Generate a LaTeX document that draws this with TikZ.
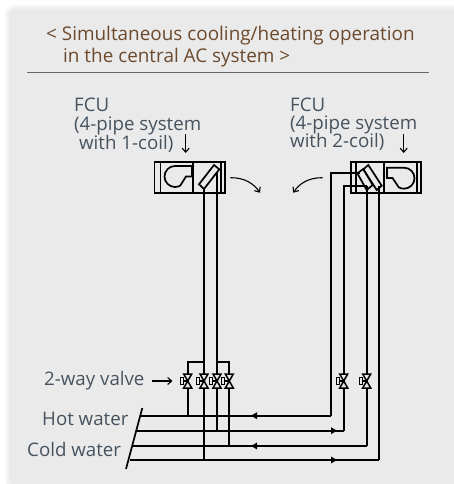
\documentclass[tikz,border=0pt]{standalone}
\usepackage{fontspec}
\setmainfont{Open Sans}
\usetikzlibrary{arrows.meta,calc}
\definecolor{panel}{HTML}{EAEAEA}
\definecolor{titlec}{HTML}{6B4A2E}
\definecolor{labelc}{HTML}{46535F}
\tikzset{
  pipe/.style={draw=black,line width=1.7pt},
  boxl/.style={draw=black,line width=1.7pt},
  flowl/.style={draw=black,line width=1.7pt,-{Latex[length=7pt,width=7.5pt]}},
  thin arrow/.style={draw=black,line width=1.1pt,-{Straight Barb[length=4pt,width=7pt]}},
  ttl/.style={anchor=base west,inner sep=0pt,text=titlec,font=\fontsize{18.9}{20}\selectfont},
  lbl/.style={anchor=base west,inner sep=0pt,text=labelc,font=\fontsize{18.7}{20}\selectfont},
  valveblk/.pic={
    \draw[line width=1.5pt,fill=panel] (-4,-7)--(4,-7)--(-4,7)--(4,7)--cycle;
    \draw[line width=1.3pt,fill=panel] (-7.5,-3.5) rectangle (-4.5,3.5);
    \draw[line width=1.3pt] (-4.5,0)--(0,0);
  }
}
\begin{document}
\begin{tikzpicture}[x=1pt,y=-1pt]
\useasboundingbox (0,0) rectangle (454,484);
\fill[white] (0,0) rectangle (454,484);
\fill[panel!35,rounded corners=9pt] (5,5) rectangle (470,490);
\fill[panel!70,rounded corners=8pt] (7,7) rectangle (470,490);
\fill[panel,rounded corners=7pt] (9,9) rectangle (470,486);
% title
\node[ttl] (t1) at (46,40.7) {< Simultaneous cooling/heating operation};
\node[ttl] (t2) at (63,62.7) {in the central AC system >};
\draw[draw=black!60,line width=1.2pt] (27,72.5) -- (428.5,72.5);
% labels
\node[lbl] (f1) at (74,111.7) {FCU};
\node[lbl] (f2) at (74,131) {(4-pipe system};
\node[lbl] (f3) at (79,149) {with 1-coil)};
\node[lbl] (g1) at (290,111) {FCU};
\node[lbl] (g2) at (290,129) {(4-pipe system};
\node[lbl] (g3) at (290,147) {with 2-coil)};
\node[lbl] (vl) at (44,385) {2-way valve};
\node[lbl] (hw) at (42,425) {Hot water};
\node[lbl] (cw) at (27,456.7) {Cold water};
\draw[thin arrow] (185.7,134) -- (185.7,153);
\draw[thin arrow] (403.7,134) -- (403.7,153);
\draw[thin arrow] (152,381) -- (172.5,381);
% left FCU
\draw[boxl] (154.5,162) rectangle (225,193);
\draw[boxl] (160.5,162)--(160.5,193) (193,162)--(193,193) (221,162)--(221,193);
\draw[boxl] (192,166) -- (175,166) arc[start angle=-90,end angle=-300,radius=10.5] -- (186,176.5) -- (192,176.5) -- cycle;
\coordinate (lp1) at (204,189); \coordinate (lp2) at (217,172);
\draw[pipe] (lp1) -- (204,460);
\draw[pipe] (lp2) -- (217,430.7);
\draw[boxl,fill=panel] (199,184.3)--(214,165)--(219.3,169.3)--(204,189)--cycle;
% right FCU
\draw[boxl] (351,162) rectangle (421.3,193);
\draw[boxl] (356,162)--(356,193) (383.7,162)--(383.7,193) (416.7,162)--(416.7,193);
\draw[boxl] (387,167.7) -- (404,167.7) arc[start angle=-90,end angle=120,radius=10.5] -- (392.5,178) -- (387,178) -- cycle;
\draw[pipe] (360,173.3) -- (331.3,173.3) -- (331.3,415.7);
\draw[pipe] (367,186) -- (343.7,186) -- (343.7,430.7);
\draw[pipe] (366.7,186) -- (366.7,446);
\draw[pipe] (379.3,186) -- (379.3,460);
\draw[boxl] (357.3,173.3)--(363.3,169)--(372.7,185)--(366.7,190)--cycle;
\draw[boxl] (363.3,169.3)--(368.3,165)--(381.7,185.7)--(376.7,190)--cycle;
% air curves
\draw[thin arrow] (230.3,177.7) .. controls (245,177.5) and (254,184) .. (260,192.7);
\draw[thin arrow] (322.7,177.7) .. controls (308,177.5) and (299,184) .. (293.3,192.7);
% headers
\draw[boxl] (142.3,408) -- (126,469);
\draw[pipe] (141,415.7) -- (331.3,415.7);
\draw[pipe] (137,430.7) -- (343.7,430.7);
\draw[pipe] (133,446) -- (366.7,446);
\draw[pipe] (129.5,460) -- (379.3,460);
\draw[flowl] (259,415.7) -- (250,415.7);
\draw[flowl] (259,446) -- (250,446);
\draw[flowl] (329,430.7) -- (338,430.7);
\draw[flowl] (329,460) -- (338,460);
% branches
\draw[pipe] (204,361.7) -- (187.7,361.7) -- (187.7,415.7);
\draw[pipe] (217,361.7) -- (229.3,361.7) -- (229.3,446);
% valves
\pic at (187.7,381) {valveblk};
\pic at (204,381) {valveblk};
\pic at (217,381) {valveblk};
\pic at (229.3,381) {valveblk};
\pic at (343.7,381) {valveblk};
\pic at (366.7,381) {valveblk};
\end{tikzpicture}
\end{document}
